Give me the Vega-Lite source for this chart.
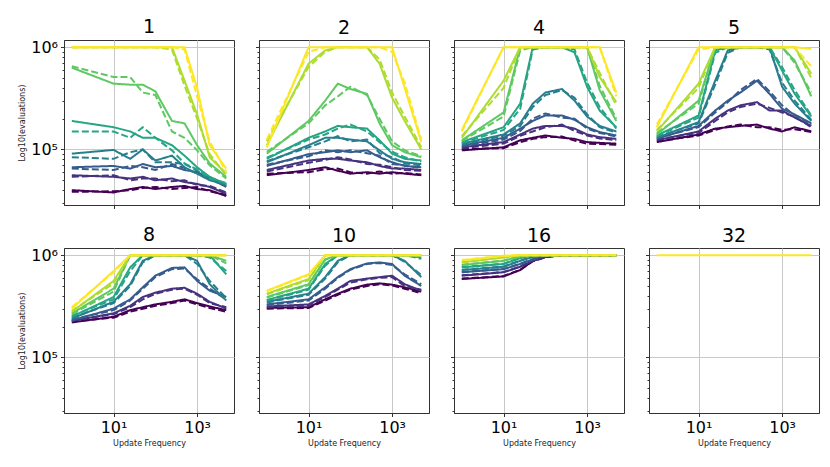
{
  "$schema": "https://vega.github.io/schema/vega-lite/v6.json",
  "padding": {"left": 18, "top": 17, "right": 5, "bottom": 5},
  "background": "white",
  "data": {
    "values": [
      {"p":1,"k":0,"d":0,"x":1,"y":40000},{"p":1,"k":0,"d":0,"x":10,"y":38000},{"p":1,"k":0,"d":0,"x":25,"y":41000},{"p":1,"k":0,"d":0,"x":50,"y":43000},{"p":1,"k":0,"d":0,"x":100,"y":41000},{"p":1,"k":0,"d":0,"x":250,"y":43000},{"p":1,"k":0,"d":0,"x":500,"y":44000},{"p":1,"k":0,"d":0,"x":1000,"y":41000},{"p":1,"k":0,"d":0,"x":2000,"y":40000},{"p":1,"k":0,"d":0,"x":5000,"y":35000},
      {"p":1,"k":0,"d":1,"x":1,"y":38500},{"p":1,"k":0,"d":1,"x":10,"y":39000},{"p":1,"k":0,"d":1,"x":25,"y":40000},{"p":1,"k":0,"d":1,"x":50,"y":42000},{"p":1,"k":0,"d":1,"x":100,"y":43000},{"p":1,"k":0,"d":1,"x":250,"y":41000},{"p":1,"k":0,"d":1,"x":500,"y":42000},{"p":1,"k":0,"d":1,"x":1000,"y":43000},{"p":1,"k":0,"d":1,"x":2000,"y":39000},{"p":1,"k":0,"d":1,"x":5000,"y":36000},
      {"p":1,"k":1,"d":0,"x":1,"y":56000},{"p":1,"k":1,"d":0,"x":10,"y":54000},{"p":1,"k":1,"d":0,"x":25,"y":52000},{"p":1,"k":1,"d":0,"x":50,"y":54000},{"p":1,"k":1,"d":0,"x":100,"y":50000},{"p":1,"k":1,"d":0,"x":250,"y":52000},{"p":1,"k":1,"d":0,"x":500,"y":48000},{"p":1,"k":1,"d":0,"x":1000,"y":46000},{"p":1,"k":1,"d":0,"x":2000,"y":43000},{"p":1,"k":1,"d":0,"x":5000,"y":37000},
      {"p":1,"k":1,"d":1,"x":1,"y":54000},{"p":1,"k":1,"d":1,"x":10,"y":56000},{"p":1,"k":1,"d":1,"x":25,"y":50000},{"p":1,"k":1,"d":1,"x":50,"y":52000},{"p":1,"k":1,"d":1,"x":100,"y":52000},{"p":1,"k":1,"d":1,"x":250,"y":49000},{"p":1,"k":1,"d":1,"x":500,"y":50000},{"p":1,"k":1,"d":1,"x":1000,"y":45000},{"p":1,"k":1,"d":1,"x":2000,"y":44000},{"p":1,"k":1,"d":1,"x":5000,"y":38000},
      {"p":1,"k":2,"d":0,"x":1,"y":67000},{"p":1,"k":2,"d":0,"x":10,"y":69000},{"p":1,"k":2,"d":0,"x":25,"y":65000},{"p":1,"k":2,"d":0,"x":50,"y":72000},{"p":1,"k":2,"d":0,"x":100,"y":67000},{"p":1,"k":2,"d":0,"x":250,"y":69000},{"p":1,"k":2,"d":0,"x":500,"y":63000},{"p":1,"k":2,"d":0,"x":1000,"y":60000},{"p":1,"k":2,"d":0,"x":2000,"y":52000},{"p":1,"k":2,"d":0,"x":5000,"y":43000},
      {"p":1,"k":2,"d":1,"x":1,"y":65000},{"p":1,"k":2,"d":1,"x":10,"y":63000},{"p":1,"k":2,"d":1,"x":25,"y":69000},{"p":1,"k":2,"d":1,"x":50,"y":67000},{"p":1,"k":2,"d":1,"x":100,"y":63000},{"p":1,"k":2,"d":1,"x":250,"y":72000},{"p":1,"k":2,"d":1,"x":500,"y":66000},{"p":1,"k":2,"d":1,"x":1000,"y":58000},{"p":1,"k":2,"d":1,"x":2000,"y":54000},{"p":1,"k":2,"d":1,"x":5000,"y":44000},
      {"p":1,"k":3,"d":0,"x":1,"y":91000},{"p":1,"k":3,"d":0,"x":10,"y":99000},{"p":1,"k":3,"d":0,"x":25,"y":81000},{"p":1,"k":3,"d":0,"x":50,"y":100000},{"p":1,"k":3,"d":0,"x":100,"y":78000},{"p":1,"k":3,"d":0,"x":250,"y":87000},{"p":1,"k":3,"d":0,"x":500,"y":67000},{"p":1,"k":3,"d":0,"x":1000,"y":58000},{"p":1,"k":3,"d":0,"x":2000,"y":50000},{"p":1,"k":3,"d":0,"x":5000,"y":45000},
      {"p":1,"k":3,"d":1,"x":1,"y":84000},{"p":1,"k":3,"d":1,"x":10,"y":81000},{"p":1,"k":3,"d":1,"x":25,"y":94000},{"p":1,"k":3,"d":1,"x":50,"y":100000},{"p":1,"k":3,"d":1,"x":100,"y":75000},{"p":1,"k":3,"d":1,"x":250,"y":75000},{"p":1,"k":3,"d":1,"x":500,"y":72000},{"p":1,"k":3,"d":1,"x":1000,"y":62000},{"p":1,"k":3,"d":1,"x":2000,"y":52000},{"p":1,"k":3,"d":1,"x":5000,"y":46000},
      {"p":1,"k":4,"d":0,"x":1,"y":190000},{"p":1,"k":4,"d":0,"x":10,"y":165000},{"p":1,"k":4,"d":0,"x":25,"y":150000},{"p":1,"k":4,"d":0,"x":50,"y":130000},{"p":1,"k":4,"d":0,"x":100,"y":130000},{"p":1,"k":4,"d":0,"x":250,"y":110000},{"p":1,"k":4,"d":0,"x":500,"y":87000},{"p":1,"k":4,"d":0,"x":1000,"y":67000},{"p":1,"k":4,"d":0,"x":2000,"y":54000},{"p":1,"k":4,"d":0,"x":5000,"y":46000},
      {"p":1,"k":4,"d":1,"x":1,"y":150000},{"p":1,"k":4,"d":1,"x":10,"y":150000},{"p":1,"k":4,"d":1,"x":25,"y":130000},{"p":1,"k":4,"d":1,"x":50,"y":165000},{"p":1,"k":4,"d":1,"x":100,"y":130000},{"p":1,"k":4,"d":1,"x":250,"y":98000},{"p":1,"k":4,"d":1,"x":500,"y":73000},{"p":1,"k":4,"d":1,"x":1000,"y":64000},{"p":1,"k":4,"d":1,"x":2000,"y":52000},{"p":1,"k":4,"d":1,"x":5000,"y":47000},
      {"p":1,"k":5,"d":0,"x":1,"y":630000},{"p":1,"k":5,"d":0,"x":10,"y":440000},{"p":1,"k":5,"d":0,"x":25,"y":430000},{"p":1,"k":5,"d":0,"x":50,"y":430000},{"p":1,"k":5,"d":0,"x":100,"y":370000},{"p":1,"k":5,"d":0,"x":250,"y":190000},{"p":1,"k":5,"d":0,"x":500,"y":180000},{"p":1,"k":5,"d":0,"x":1000,"y":110000},{"p":1,"k":5,"d":0,"x":2000,"y":73000},{"p":1,"k":5,"d":0,"x":5000,"y":54000},
      {"p":1,"k":5,"d":1,"x":1,"y":650000},{"p":1,"k":5,"d":1,"x":10,"y":510000},{"p":1,"k":5,"d":1,"x":25,"y":510000},{"p":1,"k":5,"d":1,"x":50,"y":360000},{"p":1,"k":5,"d":1,"x":100,"y":340000},{"p":1,"k":5,"d":1,"x":250,"y":150000},{"p":1,"k":5,"d":1,"x":500,"y":130000},{"p":1,"k":5,"d":1,"x":1000,"y":98000},{"p":1,"k":5,"d":1,"x":2000,"y":70000},{"p":1,"k":5,"d":1,"x":5000,"y":52000},
      {"p":1,"k":6,"d":0,"x":1,"y":1e6},{"p":1,"k":6,"d":0,"x":10,"y":1e6},{"p":1,"k":6,"d":0,"x":25,"y":1e6},{"p":1,"k":6,"d":0,"x":50,"y":1e6},{"p":1,"k":6,"d":0,"x":100,"y":1e6},{"p":1,"k":6,"d":0,"x":250,"y":1e6},{"p":1,"k":6,"d":0,"x":500,"y":470000},{"p":1,"k":6,"d":0,"x":1000,"y":220000},{"p":1,"k":6,"d":0,"x":2000,"y":84000},{"p":1,"k":6,"d":0,"x":5000,"y":58000},
      {"p":1,"k":6,"d":1,"x":1,"y":1e6},{"p":1,"k":6,"d":1,"x":10,"y":1e6},{"p":1,"k":6,"d":1,"x":25,"y":1e6},{"p":1,"k":6,"d":1,"x":50,"y":1e6},{"p":1,"k":6,"d":1,"x":100,"y":1e6},{"p":1,"k":6,"d":1,"x":250,"y":950000},{"p":1,"k":6,"d":1,"x":500,"y":420000},{"p":1,"k":6,"d":1,"x":1000,"y":200000},{"p":1,"k":6,"d":1,"x":2000,"y":90000},{"p":1,"k":6,"d":1,"x":5000,"y":56000},
      {"p":1,"k":7,"d":0,"x":1,"y":1e6},{"p":1,"k":7,"d":0,"x":10,"y":1e6},{"p":1,"k":7,"d":0,"x":25,"y":1e6},{"p":1,"k":7,"d":0,"x":50,"y":1e6},{"p":1,"k":7,"d":0,"x":100,"y":1e6},{"p":1,"k":7,"d":0,"x":250,"y":1e6},{"p":1,"k":7,"d":0,"x":500,"y":1e6},{"p":1,"k":7,"d":0,"x":1000,"y":400000},{"p":1,"k":7,"d":0,"x":2000,"y":110000},{"p":1,"k":7,"d":0,"x":5000,"y":65000},
      {"p":1,"k":7,"d":1,"x":1,"y":1e6},{"p":1,"k":7,"d":1,"x":10,"y":1e6},{"p":1,"k":7,"d":1,"x":25,"y":1e6},{"p":1,"k":7,"d":1,"x":50,"y":1e6},{"p":1,"k":7,"d":1,"x":100,"y":1e6},{"p":1,"k":7,"d":1,"x":250,"y":1e6},{"p":1,"k":7,"d":1,"x":500,"y":950000},{"p":1,"k":7,"d":1,"x":1000,"y":330000},{"p":1,"k":7,"d":1,"x":2000,"y":120000},{"p":1,"k":7,"d":1,"x":5000,"y":60000},

      {"p":2,"k":0,"d":0,"x":1,"y":56000},{"p":2,"k":0,"d":0,"x":10,"y":63000},{"p":2,"k":0,"d":0,"x":25,"y":67000},{"p":2,"k":0,"d":0,"x":50,"y":62000},{"p":2,"k":0,"d":0,"x":100,"y":58000},{"p":2,"k":0,"d":0,"x":250,"y":60000},{"p":2,"k":0,"d":0,"x":500,"y":58000},{"p":2,"k":0,"d":0,"x":1000,"y":60000},{"p":2,"k":0,"d":0,"x":2000,"y":58000},{"p":2,"k":0,"d":0,"x":5000,"y":56000},
      {"p":2,"k":0,"d":1,"x":1,"y":58000},{"p":2,"k":0,"d":1,"x":10,"y":60000},{"p":2,"k":0,"d":1,"x":25,"y":64000},{"p":2,"k":0,"d":1,"x":50,"y":65000},{"p":2,"k":0,"d":1,"x":100,"y":60000},{"p":2,"k":0,"d":1,"x":250,"y":58000},{"p":2,"k":0,"d":1,"x":500,"y":61000},{"p":2,"k":0,"d":1,"x":1000,"y":58000},{"p":2,"k":0,"d":1,"x":2000,"y":59000},{"p":2,"k":0,"d":1,"x":5000,"y":57000},
      {"p":2,"k":1,"d":0,"x":1,"y":63000},{"p":2,"k":1,"d":0,"x":10,"y":78000},{"p":2,"k":1,"d":0,"x":25,"y":81000},{"p":2,"k":1,"d":0,"x":50,"y":81000},{"p":2,"k":1,"d":0,"x":100,"y":78000},{"p":2,"k":1,"d":0,"x":250,"y":75000},{"p":2,"k":1,"d":0,"x":500,"y":69000},{"p":2,"k":1,"d":0,"x":1000,"y":65000},{"p":2,"k":1,"d":0,"x":2000,"y":65000},{"p":2,"k":1,"d":0,"x":5000,"y":63000},
      {"p":2,"k":1,"d":1,"x":1,"y":61000},{"p":2,"k":1,"d":1,"x":10,"y":74000},{"p":2,"k":1,"d":1,"x":25,"y":79000},{"p":2,"k":1,"d":1,"x":50,"y":84000},{"p":2,"k":1,"d":1,"x":100,"y":80000},{"p":2,"k":1,"d":1,"x":250,"y":72000},{"p":2,"k":1,"d":1,"x":500,"y":71000},{"p":2,"k":1,"d":1,"x":1000,"y":67000},{"p":2,"k":1,"d":1,"x":2000,"y":63000},{"p":2,"k":1,"d":1,"x":5000,"y":62000},
      {"p":2,"k":2,"d":0,"x":1,"y":69000},{"p":2,"k":2,"d":0,"x":10,"y":90000},{"p":2,"k":2,"d":0,"x":25,"y":94000},{"p":2,"k":2,"d":0,"x":50,"y":98000},{"p":2,"k":2,"d":0,"x":100,"y":94000},{"p":2,"k":2,"d":0,"x":250,"y":98000},{"p":2,"k":2,"d":0,"x":500,"y":84000},{"p":2,"k":2,"d":0,"x":1000,"y":75000},{"p":2,"k":2,"d":0,"x":2000,"y":69000},{"p":2,"k":2,"d":0,"x":5000,"y":67000},
      {"p":2,"k":2,"d":1,"x":1,"y":71000},{"p":2,"k":2,"d":1,"x":10,"y":86000},{"p":2,"k":2,"d":1,"x":25,"y":98000},{"p":2,"k":2,"d":1,"x":50,"y":94000},{"p":2,"k":2,"d":1,"x":100,"y":98000},{"p":2,"k":2,"d":1,"x":250,"y":92000},{"p":2,"k":2,"d":1,"x":500,"y":87000},{"p":2,"k":2,"d":1,"x":1000,"y":72000},{"p":2,"k":2,"d":1,"x":2000,"y":70000},{"p":2,"k":2,"d":1,"x":5000,"y":66000},
      {"p":2,"k":3,"d":0,"x":1,"y":75000},{"p":2,"k":3,"d":0,"x":10,"y":110000},{"p":2,"k":3,"d":0,"x":25,"y":130000},{"p":2,"k":3,"d":0,"x":50,"y":130000},{"p":2,"k":3,"d":0,"x":100,"y":125000},{"p":2,"k":3,"d":0,"x":250,"y":120000},{"p":2,"k":3,"d":0,"x":500,"y":98000},{"p":2,"k":3,"d":0,"x":1000,"y":81000},{"p":2,"k":3,"d":0,"x":2000,"y":75000},{"p":2,"k":3,"d":0,"x":5000,"y":72000},
      {"p":2,"k":3,"d":1,"x":1,"y":77000},{"p":2,"k":3,"d":1,"x":10,"y":105000},{"p":2,"k":3,"d":1,"x":25,"y":120000},{"p":2,"k":3,"d":1,"x":50,"y":135000},{"p":2,"k":3,"d":1,"x":100,"y":120000},{"p":2,"k":3,"d":1,"x":250,"y":125000},{"p":2,"k":3,"d":1,"x":500,"y":92000},{"p":2,"k":3,"d":1,"x":1000,"y":84000},{"p":2,"k":3,"d":1,"x":2000,"y":73000},{"p":2,"k":3,"d":1,"x":5000,"y":70000},
      {"p":2,"k":4,"d":0,"x":1,"y":81000},{"p":2,"k":4,"d":0,"x":10,"y":130000},{"p":2,"k":4,"d":0,"x":25,"y":150000},{"p":2,"k":4,"d":0,"x":50,"y":170000},{"p":2,"k":4,"d":0,"x":100,"y":165000},{"p":2,"k":4,"d":0,"x":250,"y":160000},{"p":2,"k":4,"d":0,"x":500,"y":123000},{"p":2,"k":4,"d":0,"x":1000,"y":91000},{"p":2,"k":4,"d":0,"x":2000,"y":81000},{"p":2,"k":4,"d":0,"x":5000,"y":78000},
      {"p":2,"k":4,"d":1,"x":1,"y":83000},{"p":2,"k":4,"d":1,"x":10,"y":125000},{"p":2,"k":4,"d":1,"x":25,"y":140000},{"p":2,"k":4,"d":1,"x":50,"y":160000},{"p":2,"k":4,"d":1,"x":100,"y":175000},{"p":2,"k":4,"d":1,"x":250,"y":150000},{"p":2,"k":4,"d":1,"x":500,"y":118000},{"p":2,"k":4,"d":1,"x":1000,"y":95000},{"p":2,"k":4,"d":1,"x":2000,"y":84000},{"p":2,"k":4,"d":1,"x":5000,"y":76000},
      {"p":2,"k":5,"d":0,"x":1,"y":91000},{"p":2,"k":5,"d":0,"x":10,"y":190000},{"p":2,"k":5,"d":0,"x":25,"y":300000},{"p":2,"k":5,"d":0,"x":50,"y":440000},{"p":2,"k":5,"d":0,"x":100,"y":390000},{"p":2,"k":5,"d":0,"x":250,"y":350000},{"p":2,"k":5,"d":0,"x":500,"y":180000},{"p":2,"k":5,"d":0,"x":1000,"y":110000},{"p":2,"k":5,"d":0,"x":2000,"y":94000},{"p":2,"k":5,"d":0,"x":5000,"y":84000},
      {"p":2,"k":5,"d":1,"x":1,"y":95000},{"p":2,"k":5,"d":1,"x":10,"y":180000},{"p":2,"k":5,"d":1,"x":25,"y":270000},{"p":2,"k":5,"d":1,"x":50,"y":330000},{"p":2,"k":5,"d":1,"x":100,"y":410000},{"p":2,"k":5,"d":1,"x":250,"y":340000},{"p":2,"k":5,"d":1,"x":500,"y":200000},{"p":2,"k":5,"d":1,"x":1000,"y":120000},{"p":2,"k":5,"d":1,"x":2000,"y":98000},{"p":2,"k":5,"d":1,"x":5000,"y":86000},
      {"p":2,"k":6,"d":0,"x":1,"y":110000},{"p":2,"k":6,"d":0,"x":10,"y":690000},{"p":2,"k":6,"d":0,"x":25,"y":930000},{"p":2,"k":6,"d":0,"x":50,"y":1e6},{"p":2,"k":6,"d":0,"x":100,"y":1e6},{"p":2,"k":6,"d":0,"x":250,"y":1e6},{"p":2,"k":6,"d":0,"x":500,"y":690000},{"p":2,"k":6,"d":0,"x":1000,"y":320000},{"p":2,"k":6,"d":0,"x":2000,"y":190000},{"p":2,"k":6,"d":0,"x":5000,"y":100000},
      {"p":2,"k":6,"d":1,"x":1,"y":120000},{"p":2,"k":6,"d":1,"x":10,"y":640000},{"p":2,"k":6,"d":1,"x":25,"y":900000},{"p":2,"k":6,"d":1,"x":50,"y":1e6},{"p":2,"k":6,"d":1,"x":100,"y":1e6},{"p":2,"k":6,"d":1,"x":250,"y":1e6},{"p":2,"k":6,"d":1,"x":500,"y":760000},{"p":2,"k":6,"d":1,"x":1000,"y":360000},{"p":2,"k":6,"d":1,"x":2000,"y":210000},{"p":2,"k":6,"d":1,"x":5000,"y":105000},
      {"p":2,"k":7,"d":0,"x":1,"y":105000},{"p":2,"k":7,"d":0,"x":10,"y":1e6},{"p":2,"k":7,"d":0,"x":25,"y":1e6},{"p":2,"k":7,"d":0,"x":50,"y":1e6},{"p":2,"k":7,"d":0,"x":100,"y":1e6},{"p":2,"k":7,"d":0,"x":250,"y":1e6},{"p":2,"k":7,"d":0,"x":500,"y":1e6},{"p":2,"k":7,"d":0,"x":1000,"y":1e6},{"p":2,"k":7,"d":0,"x":2000,"y":400000},{"p":2,"k":7,"d":0,"x":5000,"y":118000},
      {"p":2,"k":7,"d":1,"x":1,"y":125000},{"p":2,"k":7,"d":1,"x":10,"y":900000},{"p":2,"k":7,"d":1,"x":25,"y":1e6},{"p":2,"k":7,"d":1,"x":50,"y":1e6},{"p":2,"k":7,"d":1,"x":100,"y":1e6},{"p":2,"k":7,"d":1,"x":250,"y":1e6},{"p":2,"k":7,"d":1,"x":500,"y":1e6},{"p":2,"k":7,"d":1,"x":1000,"y":900000},{"p":2,"k":7,"d":1,"x":2000,"y":450000},{"p":2,"k":7,"d":1,"x":5000,"y":125000},

      {"p":4,"k":0,"d":0,"x":1,"y":98000},{"p":4,"k":0,"d":0,"x":10,"y":105000},{"p":4,"k":0,"d":0,"x":25,"y":123000},{"p":4,"k":0,"d":0,"x":50,"y":130000},{"p":4,"k":0,"d":0,"x":100,"y":137000},{"p":4,"k":0,"d":0,"x":250,"y":130000},{"p":4,"k":0,"d":0,"x":500,"y":127000},{"p":4,"k":0,"d":0,"x":1000,"y":118000},{"p":4,"k":0,"d":0,"x":2000,"y":116000},{"p":4,"k":0,"d":0,"x":5000,"y":114000},
      {"p":4,"k":0,"d":1,"x":1,"y":101000},{"p":4,"k":0,"d":1,"x":10,"y":103000},{"p":4,"k":0,"d":1,"x":25,"y":118000},{"p":4,"k":0,"d":1,"x":50,"y":127000},{"p":4,"k":0,"d":1,"x":100,"y":132000},{"p":4,"k":0,"d":1,"x":250,"y":134000},{"p":4,"k":0,"d":1,"x":500,"y":122000},{"p":4,"k":0,"d":1,"x":1000,"y":114000},{"p":4,"k":0,"d":1,"x":2000,"y":113000},{"p":4,"k":0,"d":1,"x":5000,"y":111000},
      {"p":4,"k":1,"d":0,"x":1,"y":105000},{"p":4,"k":1,"d":0,"x":10,"y":118000},{"p":4,"k":1,"d":0,"x":25,"y":140000},{"p":4,"k":1,"d":0,"x":50,"y":160000},{"p":4,"k":1,"d":0,"x":100,"y":170000},{"p":4,"k":1,"d":0,"x":250,"y":170000},{"p":4,"k":1,"d":0,"x":500,"y":160000},{"p":4,"k":1,"d":0,"x":1000,"y":140000},{"p":4,"k":1,"d":0,"x":2000,"y":132000},{"p":4,"k":1,"d":0,"x":5000,"y":127000},
      {"p":4,"k":1,"d":1,"x":1,"y":103000},{"p":4,"k":1,"d":1,"x":10,"y":114000},{"p":4,"k":1,"d":1,"x":25,"y":136000},{"p":4,"k":1,"d":1,"x":50,"y":150000},{"p":4,"k":1,"d":1,"x":100,"y":165000},{"p":4,"k":1,"d":1,"x":250,"y":175000},{"p":4,"k":1,"d":1,"x":500,"y":152000},{"p":4,"k":1,"d":1,"x":1000,"y":137000},{"p":4,"k":1,"d":1,"x":2000,"y":128000},{"p":4,"k":1,"d":1,"x":5000,"y":123000},
      {"p":4,"k":2,"d":0,"x":1,"y":109000},{"p":4,"k":2,"d":0,"x":10,"y":130000},{"p":4,"k":2,"d":0,"x":25,"y":160000},{"p":4,"k":2,"d":0,"x":50,"y":190000},{"p":4,"k":2,"d":0,"x":100,"y":215000},{"p":4,"k":2,"d":0,"x":250,"y":215000},{"p":4,"k":2,"d":0,"x":500,"y":195000},{"p":4,"k":2,"d":0,"x":1000,"y":165000},{"p":4,"k":2,"d":0,"x":2000,"y":148000},{"p":4,"k":2,"d":0,"x":5000,"y":137000},
      {"p":4,"k":2,"d":1,"x":1,"y":107000},{"p":4,"k":2,"d":1,"x":10,"y":125000},{"p":4,"k":2,"d":1,"x":25,"y":152000},{"p":4,"k":2,"d":1,"x":50,"y":200000},{"p":4,"k":2,"d":1,"x":100,"y":225000},{"p":4,"k":2,"d":1,"x":250,"y":205000},{"p":4,"k":2,"d":1,"x":500,"y":200000},{"p":4,"k":2,"d":1,"x":1000,"y":160000},{"p":4,"k":2,"d":1,"x":2000,"y":145000},{"p":4,"k":2,"d":1,"x":5000,"y":134000},
      {"p":4,"k":3,"d":0,"x":1,"y":114000},{"p":4,"k":3,"d":0,"x":10,"y":140000},{"p":4,"k":3,"d":0,"x":25,"y":180000},{"p":4,"k":3,"d":0,"x":50,"y":280000},{"p":4,"k":3,"d":0,"x":100,"y":360000},{"p":4,"k":3,"d":0,"x":250,"y":390000},{"p":4,"k":3,"d":0,"x":500,"y":300000},{"p":4,"k":3,"d":0,"x":1000,"y":210000},{"p":4,"k":3,"d":0,"x":2000,"y":170000},{"p":4,"k":3,"d":0,"x":5000,"y":150000},
      {"p":4,"k":3,"d":1,"x":1,"y":112000},{"p":4,"k":3,"d":1,"x":10,"y":136000},{"p":4,"k":3,"d":1,"x":25,"y":170000},{"p":4,"k":3,"d":1,"x":50,"y":260000},{"p":4,"k":3,"d":1,"x":100,"y":340000},{"p":4,"k":3,"d":1,"x":250,"y":380000},{"p":4,"k":3,"d":1,"x":500,"y":320000},{"p":4,"k":3,"d":1,"x":1000,"y":220000},{"p":4,"k":3,"d":1,"x":2000,"y":165000},{"p":4,"k":3,"d":1,"x":5000,"y":146000},
      {"p":4,"k":4,"d":0,"x":1,"y":118000},{"p":4,"k":4,"d":0,"x":10,"y":165000},{"p":4,"k":4,"d":0,"x":25,"y":280000},{"p":4,"k":4,"d":0,"x":50,"y":1e6},{"p":4,"k":4,"d":0,"x":100,"y":1e6},{"p":4,"k":4,"d":0,"x":250,"y":1e6},{"p":4,"k":4,"d":0,"x":500,"y":890000},{"p":4,"k":4,"d":0,"x":1000,"y":410000},{"p":4,"k":4,"d":0,"x":2000,"y":240000},{"p":4,"k":4,"d":0,"x":5000,"y":165000},
      {"p":4,"k":4,"d":1,"x":1,"y":116000},{"p":4,"k":4,"d":1,"x":10,"y":155000},{"p":4,"k":4,"d":1,"x":25,"y":250000},{"p":4,"k":4,"d":1,"x":50,"y":950000},{"p":4,"k":4,"d":1,"x":100,"y":1e6},{"p":4,"k":4,"d":1,"x":250,"y":1e6},{"p":4,"k":4,"d":1,"x":500,"y":950000},{"p":4,"k":4,"d":1,"x":1000,"y":450000},{"p":4,"k":4,"d":1,"x":2000,"y":260000},{"p":4,"k":4,"d":1,"x":5000,"y":160000},
      {"p":4,"k":5,"d":0,"x":1,"y":123000},{"p":4,"k":5,"d":0,"x":10,"y":230000},{"p":4,"k":5,"d":0,"x":25,"y":1e6},{"p":4,"k":5,"d":0,"x":50,"y":1e6},{"p":4,"k":5,"d":0,"x":100,"y":1e6},{"p":4,"k":5,"d":0,"x":250,"y":1e6},{"p":4,"k":5,"d":0,"x":500,"y":1e6},{"p":4,"k":5,"d":0,"x":1000,"y":1e6},{"p":4,"k":5,"d":0,"x":2000,"y":380000},{"p":4,"k":5,"d":0,"x":5000,"y":190000},
      {"p":4,"k":5,"d":1,"x":1,"y":121000},{"p":4,"k":5,"d":1,"x":10,"y":210000},{"p":4,"k":5,"d":1,"x":25,"y":930000},{"p":4,"k":5,"d":1,"x":50,"y":1e6},{"p":4,"k":5,"d":1,"x":100,"y":1e6},{"p":4,"k":5,"d":1,"x":250,"y":1e6},{"p":4,"k":5,"d":1,"x":500,"y":1e6},{"p":4,"k":5,"d":1,"x":1000,"y":1e6},{"p":4,"k":5,"d":1,"x":2000,"y":420000},{"p":4,"k":5,"d":1,"x":5000,"y":200000},
      {"p":4,"k":6,"d":0,"x":1,"y":130000},{"p":4,"k":6,"d":0,"x":10,"y":470000},{"p":4,"k":6,"d":0,"x":25,"y":1e6},{"p":4,"k":6,"d":0,"x":50,"y":1e6},{"p":4,"k":6,"d":0,"x":100,"y":1e6},{"p":4,"k":6,"d":0,"x":250,"y":1e6},{"p":4,"k":6,"d":0,"x":500,"y":1e6},{"p":4,"k":6,"d":0,"x":1000,"y":1e6},{"p":4,"k":6,"d":0,"x":2000,"y":510000},{"p":4,"k":6,"d":0,"x":5000,"y":290000},
      {"p":4,"k":6,"d":1,"x":1,"y":135000},{"p":4,"k":6,"d":1,"x":10,"y":400000},{"p":4,"k":6,"d":1,"x":25,"y":1e6},{"p":4,"k":6,"d":1,"x":50,"y":1e6},{"p":4,"k":6,"d":1,"x":100,"y":1e6},{"p":4,"k":6,"d":1,"x":250,"y":1e6},{"p":4,"k":6,"d":1,"x":500,"y":1e6},{"p":4,"k":6,"d":1,"x":1000,"y":1e6},{"p":4,"k":6,"d":1,"x":2000,"y":560000},{"p":4,"k":6,"d":1,"x":5000,"y":270000},
      {"p":4,"k":7,"d":0,"x":1,"y":155000},{"p":4,"k":7,"d":0,"x":10,"y":1e6},{"p":4,"k":7,"d":0,"x":25,"y":1e6},{"p":4,"k":7,"d":0,"x":50,"y":1e6},{"p":4,"k":7,"d":0,"x":100,"y":1e6},{"p":4,"k":7,"d":0,"x":250,"y":1e6},{"p":4,"k":7,"d":0,"x":500,"y":1e6},{"p":4,"k":7,"d":0,"x":1000,"y":1e6},{"p":4,"k":7,"d":0,"x":2000,"y":1e6},{"p":4,"k":7,"d":0,"x":5000,"y":360000},
      {"p":4,"k":7,"d":1,"x":1,"y":150000},{"p":4,"k":7,"d":1,"x":10,"y":1e6},{"p":4,"k":7,"d":1,"x":25,"y":1e6},{"p":4,"k":7,"d":1,"x":50,"y":1e6},{"p":4,"k":7,"d":1,"x":100,"y":1e6},{"p":4,"k":7,"d":1,"x":250,"y":1e6},{"p":4,"k":7,"d":1,"x":500,"y":1e6},{"p":4,"k":7,"d":1,"x":1000,"y":1e6},{"p":4,"k":7,"d":1,"x":2000,"y":1e6},{"p":4,"k":7,"d":1,"x":5000,"y":330000},

      {"p":5,"k":0,"d":0,"x":1,"y":118000},{"p":5,"k":0,"d":0,"x":10,"y":140000},{"p":5,"k":0,"d":0,"x":25,"y":160000},{"p":5,"k":0,"d":0,"x":50,"y":165000},{"p":5,"k":0,"d":0,"x":100,"y":170000},{"p":5,"k":0,"d":0,"x":250,"y":175000},{"p":5,"k":0,"d":0,"x":500,"y":160000},{"p":5,"k":0,"d":0,"x":1000,"y":150000},{"p":5,"k":0,"d":0,"x":2000,"y":165000},{"p":5,"k":0,"d":0,"x":5000,"y":150000},
      {"p":5,"k":0,"d":1,"x":1,"y":120000},{"p":5,"k":0,"d":1,"x":10,"y":137000},{"p":5,"k":0,"d":1,"x":25,"y":155000},{"p":5,"k":0,"d":1,"x":50,"y":168000},{"p":5,"k":0,"d":1,"x":100,"y":175000},{"p":5,"k":0,"d":1,"x":250,"y":165000},{"p":5,"k":0,"d":1,"x":500,"y":165000},{"p":5,"k":0,"d":1,"x":1000,"y":155000},{"p":5,"k":0,"d":1,"x":2000,"y":158000},{"p":5,"k":0,"d":1,"x":5000,"y":148000},
      {"p":5,"k":1,"d":0,"x":1,"y":123000},{"p":5,"k":1,"d":0,"x":10,"y":150000},{"p":5,"k":1,"d":0,"x":25,"y":200000},{"p":5,"k":1,"d":0,"x":50,"y":240000},{"p":5,"k":1,"d":0,"x":100,"y":270000},{"p":5,"k":1,"d":0,"x":250,"y":290000},{"p":5,"k":1,"d":0,"x":500,"y":240000},{"p":5,"k":1,"d":0,"x":1000,"y":240000},{"p":5,"k":1,"d":0,"x":2000,"y":205000},{"p":5,"k":1,"d":0,"x":5000,"y":170000},
      {"p":5,"k":1,"d":1,"x":1,"y":125000},{"p":5,"k":1,"d":1,"x":10,"y":145000},{"p":5,"k":1,"d":1,"x":25,"y":190000},{"p":5,"k":1,"d":1,"x":50,"y":230000},{"p":5,"k":1,"d":1,"x":100,"y":260000},{"p":5,"k":1,"d":1,"x":250,"y":280000},{"p":5,"k":1,"d":1,"x":500,"y":255000},{"p":5,"k":1,"d":1,"x":1000,"y":230000},{"p":5,"k":1,"d":1,"x":2000,"y":210000},{"p":5,"k":1,"d":1,"x":5000,"y":165000},
      {"p":5,"k":2,"d":0,"x":1,"y":127000},{"p":5,"k":2,"d":0,"x":10,"y":170000},{"p":5,"k":2,"d":0,"x":25,"y":240000},{"p":5,"k":2,"d":0,"x":50,"y":300000},{"p":5,"k":2,"d":0,"x":100,"y":360000},{"p":5,"k":2,"d":0,"x":250,"y":470000},{"p":5,"k":2,"d":0,"x":500,"y":350000},{"p":5,"k":2,"d":0,"x":1000,"y":250000},{"p":5,"k":2,"d":0,"x":2000,"y":220000},{"p":5,"k":2,"d":0,"x":5000,"y":180000},
      {"p":5,"k":2,"d":1,"x":1,"y":129000},{"p":5,"k":2,"d":1,"x":10,"y":165000},{"p":5,"k":2,"d":1,"x":25,"y":230000},{"p":5,"k":2,"d":1,"x":50,"y":290000},{"p":5,"k":2,"d":1,"x":100,"y":380000},{"p":5,"k":2,"d":1,"x":250,"y":490000},{"p":5,"k":2,"d":1,"x":500,"y":370000},{"p":5,"k":2,"d":1,"x":1000,"y":270000},{"p":5,"k":2,"d":1,"x":2000,"y":215000},{"p":5,"k":2,"d":1,"x":5000,"y":175000},
      {"p":5,"k":3,"d":0,"x":1,"y":130000},{"p":5,"k":3,"d":0,"x":10,"y":185000},{"p":5,"k":3,"d":0,"x":25,"y":470000},{"p":5,"k":3,"d":0,"x":50,"y":930000},{"p":5,"k":3,"d":0,"x":100,"y":1e6},{"p":5,"k":3,"d":0,"x":250,"y":1e6},{"p":5,"k":3,"d":0,"x":500,"y":1e6},{"p":5,"k":3,"d":0,"x":1000,"y":410000},{"p":5,"k":3,"d":0,"x":2000,"y":280000},{"p":5,"k":3,"d":0,"x":5000,"y":190000},
      {"p":5,"k":3,"d":1,"x":1,"y":132000},{"p":5,"k":3,"d":1,"x":10,"y":180000},{"p":5,"k":3,"d":1,"x":25,"y":430000},{"p":5,"k":3,"d":1,"x":50,"y":880000},{"p":5,"k":3,"d":1,"x":100,"y":1e6},{"p":5,"k":3,"d":1,"x":250,"y":1e6},{"p":5,"k":3,"d":1,"x":500,"y":950000},{"p":5,"k":3,"d":1,"x":1000,"y":450000},{"p":5,"k":3,"d":1,"x":2000,"y":300000},{"p":5,"k":3,"d":1,"x":5000,"y":195000},
      {"p":5,"k":4,"d":0,"x":1,"y":137000},{"p":5,"k":4,"d":0,"x":10,"y":215000},{"p":5,"k":4,"d":0,"x":25,"y":930000},{"p":5,"k":4,"d":0,"x":50,"y":1e6},{"p":5,"k":4,"d":0,"x":100,"y":1e6},{"p":5,"k":4,"d":0,"x":250,"y":1e6},{"p":5,"k":4,"d":0,"x":500,"y":1e6},{"p":5,"k":4,"d":0,"x":1000,"y":590000},{"p":5,"k":4,"d":0,"x":2000,"y":350000},{"p":5,"k":4,"d":0,"x":5000,"y":210000},
      {"p":5,"k":4,"d":1,"x":1,"y":135000},{"p":5,"k":4,"d":1,"x":10,"y":205000},{"p":5,"k":4,"d":1,"x":25,"y":880000},{"p":5,"k":4,"d":1,"x":50,"y":1e6},{"p":5,"k":4,"d":1,"x":100,"y":1e6},{"p":5,"k":4,"d":1,"x":250,"y":1e6},{"p":5,"k":4,"d":1,"x":500,"y":1e6},{"p":5,"k":4,"d":1,"x":1000,"y":640000},{"p":5,"k":4,"d":1,"x":2000,"y":380000},{"p":5,"k":4,"d":1,"x":5000,"y":215000},
      {"p":5,"k":5,"d":0,"x":1,"y":140000},{"p":5,"k":5,"d":0,"x":10,"y":300000},{"p":5,"k":5,"d":0,"x":25,"y":1e6},{"p":5,"k":5,"d":0,"x":50,"y":1e6},{"p":5,"k":5,"d":0,"x":100,"y":1e6},{"p":5,"k":5,"d":0,"x":250,"y":1e6},{"p":5,"k":5,"d":0,"x":500,"y":1e6},{"p":5,"k":5,"d":0,"x":1000,"y":1e6},{"p":5,"k":5,"d":0,"x":2000,"y":740000},{"p":5,"k":5,"d":0,"x":5000,"y":330000},
      {"p":5,"k":5,"d":1,"x":1,"y":145000},{"p":5,"k":5,"d":1,"x":10,"y":280000},{"p":5,"k":5,"d":1,"x":25,"y":1e6},{"p":5,"k":5,"d":1,"x":50,"y":1e6},{"p":5,"k":5,"d":1,"x":100,"y":1e6},{"p":5,"k":5,"d":1,"x":250,"y":1e6},{"p":5,"k":5,"d":1,"x":500,"y":1e6},{"p":5,"k":5,"d":1,"x":1000,"y":1e6},{"p":5,"k":5,"d":1,"x":2000,"y":700000},{"p":5,"k":5,"d":1,"x":5000,"y":360000},
      {"p":5,"k":6,"d":0,"x":1,"y":150000},{"p":5,"k":6,"d":0,"x":10,"y":440000},{"p":5,"k":6,"d":0,"x":25,"y":1e6},{"p":5,"k":6,"d":0,"x":50,"y":1e6},{"p":5,"k":6,"d":0,"x":100,"y":1e6},{"p":5,"k":6,"d":0,"x":250,"y":1e6},{"p":5,"k":6,"d":0,"x":500,"y":1e6},{"p":5,"k":6,"d":0,"x":1000,"y":1e6},{"p":5,"k":6,"d":0,"x":2000,"y":1e6},{"p":5,"k":6,"d":0,"x":5000,"y":550000},
      {"p":5,"k":6,"d":1,"x":1,"y":155000},{"p":5,"k":6,"d":1,"x":10,"y":400000},{"p":5,"k":6,"d":1,"x":25,"y":1e6},{"p":5,"k":6,"d":1,"x":50,"y":1e6},{"p":5,"k":6,"d":1,"x":100,"y":1e6},{"p":5,"k":6,"d":1,"x":250,"y":1e6},{"p":5,"k":6,"d":1,"x":500,"y":1e6},{"p":5,"k":6,"d":1,"x":1000,"y":1e6},{"p":5,"k":6,"d":1,"x":2000,"y":1e6},{"p":5,"k":6,"d":1,"x":5000,"y":500000},
      {"p":5,"k":7,"d":0,"x":1,"y":165000},{"p":5,"k":7,"d":0,"x":10,"y":1e6},{"p":5,"k":7,"d":0,"x":25,"y":1e6},{"p":5,"k":7,"d":0,"x":50,"y":1e6},{"p":5,"k":7,"d":0,"x":100,"y":1e6},{"p":5,"k":7,"d":0,"x":250,"y":1e6},{"p":5,"k":7,"d":0,"x":500,"y":1e6},{"p":5,"k":7,"d":0,"x":1000,"y":1e6},{"p":5,"k":7,"d":0,"x":2000,"y":1e6},{"p":5,"k":7,"d":0,"x":5000,"y":960000},
      {"p":5,"k":7,"d":1,"x":1,"y":175000},{"p":5,"k":7,"d":1,"x":10,"y":950000},{"p":5,"k":7,"d":1,"x":25,"y":1e6},{"p":5,"k":7,"d":1,"x":50,"y":1e6},{"p":5,"k":7,"d":1,"x":100,"y":1e6},{"p":5,"k":7,"d":1,"x":250,"y":1e6},{"p":5,"k":7,"d":1,"x":500,"y":1e6},{"p":5,"k":7,"d":1,"x":1000,"y":1e6},{"p":5,"k":7,"d":1,"x":2000,"y":1e6},{"p":5,"k":7,"d":1,"x":5000,"y":650000},

      {"p":8,"k":0,"d":0,"x":1,"y":220000},{"p":8,"k":0,"d":0,"x":10,"y":250000},{"p":8,"k":0,"d":0,"x":25,"y":290000},{"p":8,"k":0,"d":0,"x":50,"y":310000},{"p":8,"k":0,"d":0,"x":100,"y":330000},{"p":8,"k":0,"d":0,"x":250,"y":350000},{"p":8,"k":0,"d":0,"x":500,"y":370000},{"p":8,"k":0,"d":0,"x":1000,"y":340000},{"p":8,"k":0,"d":0,"x":2000,"y":315000},{"p":8,"k":0,"d":0,"x":5000,"y":290000},
      {"p":8,"k":0,"d":1,"x":1,"y":225000},{"p":8,"k":0,"d":1,"x":10,"y":245000},{"p":8,"k":0,"d":1,"x":25,"y":280000},{"p":8,"k":0,"d":1,"x":50,"y":300000},{"p":8,"k":0,"d":1,"x":100,"y":320000},{"p":8,"k":0,"d":1,"x":250,"y":340000},{"p":8,"k":0,"d":1,"x":500,"y":360000},{"p":8,"k":0,"d":1,"x":1000,"y":330000},{"p":8,"k":0,"d":1,"x":2000,"y":305000},{"p":8,"k":0,"d":1,"x":5000,"y":280000},
      {"p":8,"k":1,"d":0,"x":1,"y":227000},{"p":8,"k":1,"d":0,"x":10,"y":270000},{"p":8,"k":1,"d":0,"x":25,"y":320000},{"p":8,"k":1,"d":0,"x":50,"y":390000},{"p":8,"k":1,"d":0,"x":100,"y":430000},{"p":8,"k":1,"d":0,"x":250,"y":470000},{"p":8,"k":1,"d":0,"x":500,"y":480000},{"p":8,"k":1,"d":0,"x":1000,"y":420000},{"p":8,"k":1,"d":0,"x":2000,"y":350000},{"p":8,"k":1,"d":0,"x":5000,"y":300000},
      {"p":8,"k":1,"d":1,"x":1,"y":230000},{"p":8,"k":1,"d":1,"x":10,"y":265000},{"p":8,"k":1,"d":1,"x":25,"y":310000},{"p":8,"k":1,"d":1,"x":50,"y":370000},{"p":8,"k":1,"d":1,"x":100,"y":420000},{"p":8,"k":1,"d":1,"x":250,"y":460000},{"p":8,"k":1,"d":1,"x":500,"y":470000},{"p":8,"k":1,"d":1,"x":1000,"y":410000},{"p":8,"k":1,"d":1,"x":2000,"y":340000},{"p":8,"k":1,"d":1,"x":5000,"y":310000},
      {"p":8,"k":2,"d":0,"x":1,"y":230000},{"p":8,"k":2,"d":0,"x":10,"y":300000},{"p":8,"k":2,"d":0,"x":25,"y":370000},{"p":8,"k":2,"d":0,"x":50,"y":485000},{"p":8,"k":2,"d":0,"x":100,"y":630000},{"p":8,"k":2,"d":0,"x":250,"y":750000},{"p":8,"k":2,"d":0,"x":500,"y":760000},{"p":8,"k":2,"d":0,"x":1000,"y":560000},{"p":8,"k":2,"d":0,"x":2000,"y":450000},{"p":8,"k":2,"d":0,"x":5000,"y":390000},
      {"p":8,"k":2,"d":1,"x":1,"y":235000},{"p":8,"k":2,"d":1,"x":10,"y":290000},{"p":8,"k":2,"d":1,"x":25,"y":360000},{"p":8,"k":2,"d":1,"x":50,"y":470000},{"p":8,"k":2,"d":1,"x":100,"y":610000},{"p":8,"k":2,"d":1,"x":250,"y":730000},{"p":8,"k":2,"d":1,"x":500,"y":740000},{"p":8,"k":2,"d":1,"x":1000,"y":580000},{"p":8,"k":2,"d":1,"x":2000,"y":470000},{"p":8,"k":2,"d":1,"x":5000,"y":370000},
      {"p":8,"k":3,"d":0,"x":1,"y":240000},{"p":8,"k":3,"d":0,"x":10,"y":350000},{"p":8,"k":3,"d":0,"x":25,"y":520000},{"p":8,"k":3,"d":0,"x":50,"y":880000},{"p":8,"k":3,"d":0,"x":100,"y":1e6},{"p":8,"k":3,"d":0,"x":250,"y":1e6},{"p":8,"k":3,"d":0,"x":500,"y":1e6},{"p":8,"k":3,"d":0,"x":1000,"y":880000},{"p":8,"k":3,"d":0,"x":2000,"y":520000},{"p":8,"k":3,"d":0,"x":5000,"y":360000},
      {"p":8,"k":3,"d":1,"x":1,"y":245000},{"p":8,"k":3,"d":1,"x":10,"y":340000},{"p":8,"k":3,"d":1,"x":25,"y":500000},{"p":8,"k":3,"d":1,"x":50,"y":850000},{"p":8,"k":3,"d":1,"x":100,"y":1e6},{"p":8,"k":3,"d":1,"x":250,"y":1e6},{"p":8,"k":3,"d":1,"x":500,"y":1e6},{"p":8,"k":3,"d":1,"x":1000,"y":820000},{"p":8,"k":3,"d":1,"x":2000,"y":560000},{"p":8,"k":3,"d":1,"x":5000,"y":380000},
      {"p":8,"k":4,"d":0,"x":1,"y":250000},{"p":8,"k":4,"d":0,"x":10,"y":390000},{"p":8,"k":4,"d":0,"x":25,"y":760000},{"p":8,"k":4,"d":0,"x":50,"y":1e6},{"p":8,"k":4,"d":0,"x":100,"y":1e6},{"p":8,"k":4,"d":0,"x":250,"y":1e6},{"p":8,"k":4,"d":0,"x":500,"y":1e6},{"p":8,"k":4,"d":0,"x":1000,"y":1e6},{"p":8,"k":4,"d":0,"x":2000,"y":1e6},{"p":8,"k":4,"d":0,"x":5000,"y":650000},
      {"p":8,"k":4,"d":1,"x":1,"y":255000},{"p":8,"k":4,"d":1,"x":10,"y":370000},{"p":8,"k":4,"d":1,"x":25,"y":700000},{"p":8,"k":4,"d":1,"x":50,"y":1e6},{"p":8,"k":4,"d":1,"x":100,"y":1e6},{"p":8,"k":4,"d":1,"x":250,"y":1e6},{"p":8,"k":4,"d":1,"x":500,"y":1e6},{"p":8,"k":4,"d":1,"x":1000,"y":1e6},{"p":8,"k":4,"d":1,"x":2000,"y":950000},{"p":8,"k":4,"d":1,"x":5000,"y":700000},
      {"p":8,"k":5,"d":0,"x":1,"y":270000},{"p":8,"k":5,"d":0,"x":10,"y":470000},{"p":8,"k":5,"d":0,"x":25,"y":1e6},{"p":8,"k":5,"d":0,"x":50,"y":1e6},{"p":8,"k":5,"d":0,"x":100,"y":1e6},{"p":8,"k":5,"d":0,"x":250,"y":1e6},{"p":8,"k":5,"d":0,"x":500,"y":1e6},{"p":8,"k":5,"d":0,"x":1000,"y":1e6},{"p":8,"k":5,"d":0,"x":2000,"y":1e6},{"p":8,"k":5,"d":0,"x":5000,"y":880000},
      {"p":8,"k":5,"d":1,"x":1,"y":265000},{"p":8,"k":5,"d":1,"x":10,"y":440000},{"p":8,"k":5,"d":1,"x":25,"y":1e6},{"p":8,"k":5,"d":1,"x":50,"y":1e6},{"p":8,"k":5,"d":1,"x":100,"y":1e6},{"p":8,"k":5,"d":1,"x":250,"y":1e6},{"p":8,"k":5,"d":1,"x":500,"y":1e6},{"p":8,"k":5,"d":1,"x":1000,"y":1e6},{"p":8,"k":5,"d":1,"x":2000,"y":1e6},{"p":8,"k":5,"d":1,"x":5000,"y":830000},
      {"p":8,"k":6,"d":0,"x":1,"y":280000},{"p":8,"k":6,"d":0,"x":10,"y":560000},{"p":8,"k":6,"d":0,"x":25,"y":1e6},{"p":8,"k":6,"d":0,"x":50,"y":1e6},{"p":8,"k":6,"d":0,"x":100,"y":1e6},{"p":8,"k":6,"d":0,"x":250,"y":1e6},{"p":8,"k":6,"d":0,"x":500,"y":1e6},{"p":8,"k":6,"d":0,"x":1000,"y":1e6},{"p":8,"k":6,"d":0,"x":2000,"y":1e6},{"p":8,"k":6,"d":0,"x":5000,"y":1e6},
      {"p":8,"k":6,"d":1,"x":1,"y":285000},{"p":8,"k":6,"d":1,"x":10,"y":530000},{"p":8,"k":6,"d":1,"x":25,"y":1e6},{"p":8,"k":6,"d":1,"x":50,"y":1e6},{"p":8,"k":6,"d":1,"x":100,"y":1e6},{"p":8,"k":6,"d":1,"x":250,"y":1e6},{"p":8,"k":6,"d":1,"x":500,"y":1e6},{"p":8,"k":6,"d":1,"x":1000,"y":1e6},{"p":8,"k":6,"d":1,"x":2000,"y":1e6},{"p":8,"k":6,"d":1,"x":5000,"y":1e6},
      {"p":8,"k":7,"d":0,"x":1,"y":300000},{"p":8,"k":7,"d":0,"x":10,"y":700000},{"p":8,"k":7,"d":0,"x":25,"y":1e6},{"p":8,"k":7,"d":0,"x":50,"y":1e6},{"p":8,"k":7,"d":0,"x":100,"y":1e6},{"p":8,"k":7,"d":0,"x":250,"y":1e6},{"p":8,"k":7,"d":0,"x":500,"y":1e6},{"p":8,"k":7,"d":0,"x":1000,"y":1e6},{"p":8,"k":7,"d":0,"x":2000,"y":1e6},{"p":8,"k":7,"d":0,"x":5000,"y":1e6},
      {"p":8,"k":7,"d":1,"x":1,"y":310000},{"p":8,"k":7,"d":1,"x":10,"y":680000},{"p":8,"k":7,"d":1,"x":25,"y":1e6},{"p":8,"k":7,"d":1,"x":50,"y":1e6},{"p":8,"k":7,"d":1,"x":100,"y":1e6},{"p":8,"k":7,"d":1,"x":250,"y":1e6},{"p":8,"k":7,"d":1,"x":500,"y":1e6},{"p":8,"k":7,"d":1,"x":1000,"y":1e6},{"p":8,"k":7,"d":1,"x":2000,"y":1e6},{"p":8,"k":7,"d":1,"x":5000,"y":1e6},

      {"p":10,"k":0,"d":0,"x":1,"y":305000},{"p":10,"k":0,"d":0,"x":10,"y":310000},{"p":10,"k":0,"d":0,"x":25,"y":370000},{"p":10,"k":0,"d":0,"x":50,"y":420000},{"p":10,"k":0,"d":0,"x":100,"y":470000},{"p":10,"k":0,"d":0,"x":250,"y":515000},{"p":10,"k":0,"d":0,"x":500,"y":530000},{"p":10,"k":0,"d":0,"x":1000,"y":515000},{"p":10,"k":0,"d":0,"x":2000,"y":485000},{"p":10,"k":0,"d":0,"x":5000,"y":440000},
      {"p":10,"k":0,"d":1,"x":1,"y":300000},{"p":10,"k":0,"d":1,"x":10,"y":305000},{"p":10,"k":0,"d":1,"x":25,"y":360000},{"p":10,"k":0,"d":1,"x":50,"y":410000},{"p":10,"k":0,"d":1,"x":100,"y":460000},{"p":10,"k":0,"d":1,"x":250,"y":500000},{"p":10,"k":0,"d":1,"x":500,"y":520000},{"p":10,"k":0,"d":1,"x":1000,"y":505000},{"p":10,"k":0,"d":1,"x":2000,"y":470000},{"p":10,"k":0,"d":1,"x":5000,"y":425000},
      {"p":10,"k":1,"d":0,"x":1,"y":315000},{"p":10,"k":1,"d":0,"x":10,"y":330000},{"p":10,"k":1,"d":0,"x":25,"y":400000},{"p":10,"k":1,"d":0,"x":50,"y":470000},{"p":10,"k":1,"d":0,"x":100,"y":560000},{"p":10,"k":1,"d":0,"x":250,"y":590000},{"p":10,"k":1,"d":0,"x":500,"y":610000},{"p":10,"k":1,"d":0,"x":1000,"y":630000},{"p":10,"k":1,"d":0,"x":2000,"y":520000},{"p":10,"k":1,"d":0,"x":5000,"y":450000},
      {"p":10,"k":1,"d":1,"x":1,"y":310000},{"p":10,"k":1,"d":1,"x":10,"y":320000},{"p":10,"k":1,"d":1,"x":25,"y":390000},{"p":10,"k":1,"d":1,"x":50,"y":460000},{"p":10,"k":1,"d":1,"x":100,"y":540000},{"p":10,"k":1,"d":1,"x":250,"y":580000},{"p":10,"k":1,"d":1,"x":500,"y":600000},{"p":10,"k":1,"d":1,"x":1000,"y":610000},{"p":10,"k":1,"d":1,"x":2000,"y":500000},{"p":10,"k":1,"d":1,"x":5000,"y":460000},
      {"p":10,"k":2,"d":0,"x":1,"y":330000},{"p":10,"k":2,"d":0,"x":10,"y":370000},{"p":10,"k":2,"d":0,"x":25,"y":485000},{"p":10,"k":2,"d":0,"x":50,"y":610000},{"p":10,"k":2,"d":0,"x":100,"y":730000},{"p":10,"k":2,"d":0,"x":250,"y":830000},{"p":10,"k":2,"d":0,"x":500,"y":850000},{"p":10,"k":2,"d":0,"x":1000,"y":820000},{"p":10,"k":2,"d":0,"x":2000,"y":630000},{"p":10,"k":2,"d":0,"x":5000,"y":500000},
      {"p":10,"k":2,"d":1,"x":1,"y":325000},{"p":10,"k":2,"d":1,"x":10,"y":360000},{"p":10,"k":2,"d":1,"x":25,"y":470000},{"p":10,"k":2,"d":1,"x":50,"y":600000},{"p":10,"k":2,"d":1,"x":100,"y":720000},{"p":10,"k":2,"d":1,"x":250,"y":820000},{"p":10,"k":2,"d":1,"x":500,"y":840000},{"p":10,"k":2,"d":1,"x":1000,"y":800000},{"p":10,"k":2,"d":1,"x":2000,"y":650000},{"p":10,"k":2,"d":1,"x":5000,"y":520000},
      {"p":10,"k":3,"d":0,"x":1,"y":350000},{"p":10,"k":3,"d":0,"x":10,"y":420000},{"p":10,"k":3,"d":0,"x":25,"y":610000},{"p":10,"k":3,"d":0,"x":50,"y":880000},{"p":10,"k":3,"d":0,"x":100,"y":1e6},{"p":10,"k":3,"d":0,"x":250,"y":1e6},{"p":10,"k":3,"d":0,"x":500,"y":1e6},{"p":10,"k":3,"d":0,"x":1000,"y":1e6},{"p":10,"k":3,"d":0,"x":2000,"y":880000},{"p":10,"k":3,"d":0,"x":5000,"y":610000},
      {"p":10,"k":3,"d":1,"x":1,"y":345000},{"p":10,"k":3,"d":1,"x":10,"y":410000},{"p":10,"k":3,"d":1,"x":25,"y":590000},{"p":10,"k":3,"d":1,"x":50,"y":850000},{"p":10,"k":3,"d":1,"x":100,"y":1e6},{"p":10,"k":3,"d":1,"x":250,"y":1e6},{"p":10,"k":3,"d":1,"x":500,"y":1e6},{"p":10,"k":3,"d":1,"x":1000,"y":1e6},{"p":10,"k":3,"d":1,"x":2000,"y":860000},{"p":10,"k":3,"d":1,"x":5000,"y":640000},
      {"p":10,"k":4,"d":0,"x":1,"y":365000},{"p":10,"k":4,"d":0,"x":10,"y":470000},{"p":10,"k":4,"d":0,"x":25,"y":820000},{"p":10,"k":4,"d":0,"x":50,"y":1e6},{"p":10,"k":4,"d":0,"x":100,"y":1e6},{"p":10,"k":4,"d":0,"x":250,"y":1e6},{"p":10,"k":4,"d":0,"x":500,"y":1e6},{"p":10,"k":4,"d":0,"x":1000,"y":1e6},{"p":10,"k":4,"d":0,"x":2000,"y":1e6},{"p":10,"k":4,"d":0,"x":5000,"y":950000},
      {"p":10,"k":4,"d":1,"x":1,"y":360000},{"p":10,"k":4,"d":1,"x":10,"y":460000},{"p":10,"k":4,"d":1,"x":25,"y":790000},{"p":10,"k":4,"d":1,"x":50,"y":1e6},{"p":10,"k":4,"d":1,"x":100,"y":1e6},{"p":10,"k":4,"d":1,"x":250,"y":1e6},{"p":10,"k":4,"d":1,"x":500,"y":1e6},{"p":10,"k":4,"d":1,"x":1000,"y":1e6},{"p":10,"k":4,"d":1,"x":2000,"y":1e6},{"p":10,"k":4,"d":1,"x":5000,"y":920000},
      {"p":10,"k":5,"d":0,"x":1,"y":390000},{"p":10,"k":5,"d":0,"x":10,"y":520000},{"p":10,"k":5,"d":0,"x":25,"y":910000},{"p":10,"k":5,"d":0,"x":50,"y":1e6},{"p":10,"k":5,"d":0,"x":100,"y":1e6},{"p":10,"k":5,"d":0,"x":250,"y":1e6},{"p":10,"k":5,"d":0,"x":500,"y":1e6},{"p":10,"k":5,"d":0,"x":1000,"y":1e6},{"p":10,"k":5,"d":0,"x":2000,"y":1e6},{"p":10,"k":5,"d":0,"x":5000,"y":1e6},
      {"p":10,"k":5,"d":1,"x":1,"y":385000},{"p":10,"k":5,"d":1,"x":10,"y":510000},{"p":10,"k":5,"d":1,"x":25,"y":900000},{"p":10,"k":5,"d":1,"x":50,"y":1e6},{"p":10,"k":5,"d":1,"x":100,"y":1e6},{"p":10,"k":5,"d":1,"x":250,"y":1e6},{"p":10,"k":5,"d":1,"x":500,"y":1e6},{"p":10,"k":5,"d":1,"x":1000,"y":1e6},{"p":10,"k":5,"d":1,"x":2000,"y":1e6},{"p":10,"k":5,"d":1,"x":5000,"y":1e6},
      {"p":10,"k":6,"d":0,"x":1,"y":420000},{"p":10,"k":6,"d":0,"x":10,"y":585000},{"p":10,"k":6,"d":0,"x":25,"y":1e6},{"p":10,"k":6,"d":0,"x":50,"y":1e6},{"p":10,"k":6,"d":0,"x":100,"y":1e6},{"p":10,"k":6,"d":0,"x":250,"y":1e6},{"p":10,"k":6,"d":0,"x":500,"y":1e6},{"p":10,"k":6,"d":0,"x":1000,"y":1e6},{"p":10,"k":6,"d":0,"x":2000,"y":1e6},{"p":10,"k":6,"d":0,"x":5000,"y":1e6},
      {"p":10,"k":6,"d":1,"x":1,"y":415000},{"p":10,"k":6,"d":1,"x":10,"y":570000},{"p":10,"k":6,"d":1,"x":25,"y":1e6},{"p":10,"k":6,"d":1,"x":50,"y":1e6},{"p":10,"k":6,"d":1,"x":100,"y":1e6},{"p":10,"k":6,"d":1,"x":250,"y":1e6},{"p":10,"k":6,"d":1,"x":500,"y":1e6},{"p":10,"k":6,"d":1,"x":1000,"y":1e6},{"p":10,"k":6,"d":1,"x":2000,"y":1e6},{"p":10,"k":6,"d":1,"x":5000,"y":1e6},
      {"p":10,"k":7,"d":0,"x":1,"y":450000},{"p":10,"k":7,"d":0,"x":10,"y":650000},{"p":10,"k":7,"d":0,"x":25,"y":1e6},{"p":10,"k":7,"d":0,"x":50,"y":1e6},{"p":10,"k":7,"d":0,"x":100,"y":1e6},{"p":10,"k":7,"d":0,"x":250,"y":1e6},{"p":10,"k":7,"d":0,"x":500,"y":1e6},{"p":10,"k":7,"d":0,"x":1000,"y":1e6},{"p":10,"k":7,"d":0,"x":2000,"y":1e6},{"p":10,"k":7,"d":0,"x":5000,"y":1e6},
      {"p":10,"k":7,"d":1,"x":1,"y":445000},{"p":10,"k":7,"d":1,"x":10,"y":640000},{"p":10,"k":7,"d":1,"x":25,"y":1e6},{"p":10,"k":7,"d":1,"x":50,"y":1e6},{"p":10,"k":7,"d":1,"x":100,"y":1e6},{"p":10,"k":7,"d":1,"x":250,"y":1e6},{"p":10,"k":7,"d":1,"x":500,"y":1e6},{"p":10,"k":7,"d":1,"x":1000,"y":1e6},{"p":10,"k":7,"d":1,"x":2000,"y":1e6},{"p":10,"k":7,"d":1,"x":5000,"y":1e6},

      {"p":16,"k":0,"d":0,"x":1,"y":585000},{"p":16,"k":0,"d":0,"x":10,"y":620000},{"p":16,"k":0,"d":0,"x":25,"y":715000},{"p":16,"k":0,"d":0,"x":50,"y":880000},{"p":16,"k":0,"d":0,"x":100,"y":960000},{"p":16,"k":0,"d":0,"x":250,"y":1e6},{"p":16,"k":0,"d":0,"x":500,"y":1e6},{"p":16,"k":0,"d":0,"x":1000,"y":1e6},{"p":16,"k":0,"d":0,"x":2000,"y":1e6},{"p":16,"k":0,"d":0,"x":5000,"y":1e6},
      {"p":16,"k":0,"d":1,"x":1,"y":590000},{"p":16,"k":0,"d":1,"x":10,"y":625000},{"p":16,"k":0,"d":1,"x":25,"y":720000},{"p":16,"k":0,"d":1,"x":50,"y":870000},{"p":16,"k":0,"d":1,"x":100,"y":955000},{"p":16,"k":0,"d":1,"x":250,"y":1e6},{"p":16,"k":0,"d":1,"x":500,"y":1e6},{"p":16,"k":0,"d":1,"x":1000,"y":1e6},{"p":16,"k":0,"d":1,"x":2000,"y":1e6},{"p":16,"k":0,"d":1,"x":5000,"y":1e6},
      {"p":16,"k":1,"d":0,"x":1,"y":630000},{"p":16,"k":1,"d":0,"x":10,"y":680000},{"p":16,"k":1,"d":0,"x":25,"y":770000},{"p":16,"k":1,"d":0,"x":50,"y":880000},{"p":16,"k":1,"d":0,"x":100,"y":960000},{"p":16,"k":1,"d":0,"x":250,"y":1e6},{"p":16,"k":1,"d":0,"x":500,"y":1e6},{"p":16,"k":1,"d":0,"x":1000,"y":1e6},{"p":16,"k":1,"d":0,"x":2000,"y":1e6},{"p":16,"k":1,"d":0,"x":5000,"y":1e6},
      {"p":16,"k":1,"d":1,"x":1,"y":635000},{"p":16,"k":1,"d":1,"x":10,"y":685000},{"p":16,"k":1,"d":1,"x":25,"y":775000},{"p":16,"k":1,"d":1,"x":50,"y":890000},{"p":16,"k":1,"d":1,"x":100,"y":965000},{"p":16,"k":1,"d":1,"x":250,"y":1e6},{"p":16,"k":1,"d":1,"x":500,"y":1e6},{"p":16,"k":1,"d":1,"x":1000,"y":1e6},{"p":16,"k":1,"d":1,"x":2000,"y":1e6},{"p":16,"k":1,"d":1,"x":5000,"y":1e6},
      {"p":16,"k":2,"d":0,"x":1,"y":680000},{"p":16,"k":2,"d":0,"x":10,"y":730000},{"p":16,"k":2,"d":0,"x":25,"y":820000},{"p":16,"k":2,"d":0,"x":50,"y":910000},{"p":16,"k":2,"d":0,"x":100,"y":985000},{"p":16,"k":2,"d":0,"x":250,"y":1e6},{"p":16,"k":2,"d":0,"x":500,"y":1e6},{"p":16,"k":2,"d":0,"x":1000,"y":1e6},{"p":16,"k":2,"d":0,"x":2000,"y":1e6},{"p":16,"k":2,"d":0,"x":5000,"y":1e6},
      {"p":16,"k":2,"d":1,"x":1,"y":685000},{"p":16,"k":2,"d":1,"x":10,"y":735000},{"p":16,"k":2,"d":1,"x":25,"y":825000},{"p":16,"k":2,"d":1,"x":50,"y":915000},{"p":16,"k":2,"d":1,"x":100,"y":985000},{"p":16,"k":2,"d":1,"x":250,"y":1e6},{"p":16,"k":2,"d":1,"x":500,"y":1e6},{"p":16,"k":2,"d":1,"x":1000,"y":1e6},{"p":16,"k":2,"d":1,"x":2000,"y":1e6},{"p":16,"k":2,"d":1,"x":5000,"y":1e6},
      {"p":16,"k":3,"d":0,"x":1,"y":715000},{"p":16,"k":3,"d":0,"x":10,"y":770000},{"p":16,"k":3,"d":0,"x":25,"y":880000},{"p":16,"k":3,"d":0,"x":50,"y":960000},{"p":16,"k":3,"d":0,"x":100,"y":1e6},{"p":16,"k":3,"d":0,"x":250,"y":1e6},{"p":16,"k":3,"d":0,"x":500,"y":1e6},{"p":16,"k":3,"d":0,"x":1000,"y":1e6},{"p":16,"k":3,"d":0,"x":2000,"y":1e6},{"p":16,"k":3,"d":0,"x":5000,"y":1e6},
      {"p":16,"k":3,"d":1,"x":1,"y":720000},{"p":16,"k":3,"d":1,"x":10,"y":775000},{"p":16,"k":3,"d":1,"x":25,"y":885000},{"p":16,"k":3,"d":1,"x":50,"y":965000},{"p":16,"k":3,"d":1,"x":100,"y":1e6},{"p":16,"k":3,"d":1,"x":250,"y":1e6},{"p":16,"k":3,"d":1,"x":500,"y":1e6},{"p":16,"k":3,"d":1,"x":1000,"y":1e6},{"p":16,"k":3,"d":1,"x":2000,"y":1e6},{"p":16,"k":3,"d":1,"x":5000,"y":1e6},
      {"p":16,"k":4,"d":0,"x":1,"y":760000},{"p":16,"k":4,"d":0,"x":10,"y":820000},{"p":16,"k":4,"d":0,"x":25,"y":935000},{"p":16,"k":4,"d":0,"x":50,"y":1e6},{"p":16,"k":4,"d":0,"x":100,"y":1e6},{"p":16,"k":4,"d":0,"x":250,"y":1e6},{"p":16,"k":4,"d":0,"x":500,"y":1e6},{"p":16,"k":4,"d":0,"x":1000,"y":1e6},{"p":16,"k":4,"d":0,"x":2000,"y":1e6},{"p":16,"k":4,"d":0,"x":5000,"y":1e6},
      {"p":16,"k":4,"d":1,"x":1,"y":765000},{"p":16,"k":4,"d":1,"x":10,"y":825000},{"p":16,"k":4,"d":1,"x":25,"y":940000},{"p":16,"k":4,"d":1,"x":50,"y":1e6},{"p":16,"k":4,"d":1,"x":100,"y":1e6},{"p":16,"k":4,"d":1,"x":250,"y":1e6},{"p":16,"k":4,"d":1,"x":500,"y":1e6},{"p":16,"k":4,"d":1,"x":1000,"y":1e6},{"p":16,"k":4,"d":1,"x":2000,"y":1e6},{"p":16,"k":4,"d":1,"x":5000,"y":1e6},
      {"p":16,"k":5,"d":0,"x":1,"y":800000},{"p":16,"k":5,"d":0,"x":10,"y":880000},{"p":16,"k":5,"d":0,"x":25,"y":970000},{"p":16,"k":5,"d":0,"x":50,"y":1e6},{"p":16,"k":5,"d":0,"x":100,"y":1e6},{"p":16,"k":5,"d":0,"x":250,"y":1e6},{"p":16,"k":5,"d":0,"x":500,"y":1e6},{"p":16,"k":5,"d":0,"x":1000,"y":1e6},{"p":16,"k":5,"d":0,"x":2000,"y":1e6},{"p":16,"k":5,"d":0,"x":5000,"y":1e6},
      {"p":16,"k":5,"d":1,"x":1,"y":805000},{"p":16,"k":5,"d":1,"x":10,"y":885000},{"p":16,"k":5,"d":1,"x":25,"y":975000},{"p":16,"k":5,"d":1,"x":50,"y":1e6},{"p":16,"k":5,"d":1,"x":100,"y":1e6},{"p":16,"k":5,"d":1,"x":250,"y":1e6},{"p":16,"k":5,"d":1,"x":500,"y":1e6},{"p":16,"k":5,"d":1,"x":1000,"y":1e6},{"p":16,"k":5,"d":1,"x":2000,"y":1e6},{"p":16,"k":5,"d":1,"x":5000,"y":1e6},
      {"p":16,"k":6,"d":0,"x":1,"y":850000},{"p":16,"k":6,"d":0,"x":10,"y":950000},{"p":16,"k":6,"d":0,"x":25,"y":1e6},{"p":16,"k":6,"d":0,"x":50,"y":1e6},{"p":16,"k":6,"d":0,"x":100,"y":1e6},{"p":16,"k":6,"d":0,"x":250,"y":1e6},{"p":16,"k":6,"d":0,"x":500,"y":1e6},{"p":16,"k":6,"d":0,"x":1000,"y":1e6},{"p":16,"k":6,"d":0,"x":2000,"y":1e6},{"p":16,"k":6,"d":0,"x":5000,"y":1e6},
      {"p":16,"k":6,"d":1,"x":1,"y":855000},{"p":16,"k":6,"d":1,"x":10,"y":955000},{"p":16,"k":6,"d":1,"x":25,"y":1e6},{"p":16,"k":6,"d":1,"x":50,"y":1e6},{"p":16,"k":6,"d":1,"x":100,"y":1e6},{"p":16,"k":6,"d":1,"x":250,"y":1e6},{"p":16,"k":6,"d":1,"x":500,"y":1e6},{"p":16,"k":6,"d":1,"x":1000,"y":1e6},{"p":16,"k":6,"d":1,"x":2000,"y":1e6},{"p":16,"k":6,"d":1,"x":5000,"y":1e6},
      {"p":16,"k":7,"d":0,"x":1,"y":890000},{"p":16,"k":7,"d":0,"x":10,"y":985000},{"p":16,"k":7,"d":0,"x":25,"y":1e6},{"p":16,"k":7,"d":0,"x":50,"y":1e6},{"p":16,"k":7,"d":0,"x":100,"y":1e6},{"p":16,"k":7,"d":0,"x":250,"y":1e6},{"p":16,"k":7,"d":0,"x":500,"y":1e6},{"p":16,"k":7,"d":0,"x":1000,"y":1e6},{"p":16,"k":7,"d":0,"x":2000,"y":1e6},{"p":16,"k":7,"d":0,"x":5000,"y":1e6},
      {"p":16,"k":7,"d":1,"x":1,"y":895000},{"p":16,"k":7,"d":1,"x":10,"y":985000},{"p":16,"k":7,"d":1,"x":25,"y":1e6},{"p":16,"k":7,"d":1,"x":50,"y":1e6},{"p":16,"k":7,"d":1,"x":100,"y":1e6},{"p":16,"k":7,"d":1,"x":250,"y":1e6},{"p":16,"k":7,"d":1,"x":500,"y":1e6},{"p":16,"k":7,"d":1,"x":1000,"y":1e6},{"p":16,"k":7,"d":1,"x":2000,"y":1e6},{"p":16,"k":7,"d":1,"x":5000,"y":1e6},

      {"p":32,"k":7,"d":0,"x":1,"y":1e6},{"p":32,"k":7,"d":0,"x":10,"y":1e6},{"p":32,"k":7,"d":0,"x":25,"y":1e6},{"p":32,"k":7,"d":0,"x":50,"y":1e6},{"p":32,"k":7,"d":0,"x":100,"y":1e6},{"p":32,"k":7,"d":0,"x":250,"y":1e6},{"p":32,"k":7,"d":0,"x":500,"y":1e6},{"p":32,"k":7,"d":0,"x":1000,"y":1e6},{"p":32,"k":7,"d":0,"x":2000,"y":1e6},{"p":32,"k":7,"d":0,"x":5000,"y":1e6}
    ]
  },
  "vconcat": [
    {
      "hconcat": [
        {
          "title": "1",
          "transform": [{"filter": "datum.p == 1"}],
          "mark": {"type": "line", "strokeWidth": 2},
          "encoding": {
            "x": {"field": "x", "type": "quantitative", "scale": {"type": "log", "domain": [0.65, 7650]}, "axis": {"values": [10, 1000], "labels": false, "title": null}},
            "y": {"field": "y", "type": "quantitative", "scale": {"type": "log", "domain": [28650, 1175000]}, "axis": {"values": [30000,40000,50000,60000,70000,80000,90000,100000,200000,300000,400000,500000,600000,700000,800000,900000,1000000], "labelExpr": "datum.value == 1000000 ? '10⁶' : datum.value == 100000 ? '10⁵' : ''", "title": "Log10(evaluations)", "tickSize": {"condition": {"test": "datum.value == 100000 || datum.value == 1000000", "value": 3.5}, "value": 2}, "gridOpacity": {"condition": {"test": "datum.value == 100000 || datum.value == 1000000", "value": 1}, "value": 0}}},
            "color": {"field": "k", "type": "ordinal", "scale": {"domain": [0,1,2,3,4,5,6,7], "range": ["#440154","#46327e","#365c8d","#277f8e","#25a584","#5ec962","#addc30","#fde725"]}, "legend": null},
            "strokeDash": {"field": "d", "type": "ordinal", "scale": {"domain": [0, 1], "range": [[1, 0], [7, 3]]}, "legend": null}
          }
        },
        {
          "title": "2",
          "transform": [{"filter": "datum.p == 2"}],
          "mark": {"type": "line", "strokeWidth": 2},
          "encoding": {
            "x": {"field": "x", "type": "quantitative", "scale": {"type": "log", "domain": [0.65, 7650]}, "axis": {"values": [10, 1000], "labels": false, "title": null}},
            "y": {"field": "y", "type": "quantitative", "scale": {"type": "log", "domain": [28650, 1175000]}, "axis": {"values": [30000,40000,50000,60000,70000,80000,90000,100000,200000,300000,400000,500000,600000,700000,800000,900000,1000000], "labels": false, "title": null, "tickSize": {"condition": {"test": "datum.value == 100000 || datum.value == 1000000", "value": 3.5}, "value": 2}, "gridOpacity": {"condition": {"test": "datum.value == 100000 || datum.value == 1000000", "value": 1}, "value": 0}}},
            "color": {"field": "k", "type": "ordinal", "scale": {"domain": [0,1,2,3,4,5,6,7], "range": ["#440154","#46327e","#365c8d","#277f8e","#25a584","#5ec962","#addc30","#fde725"]}, "legend": null},
            "strokeDash": {"field": "d", "type": "ordinal", "scale": {"domain": [0, 1], "range": [[1, 0], [7, 3]]}, "legend": null}
          }
        },
        {
          "title": "4",
          "transform": [{"filter": "datum.p == 4"}],
          "mark": {"type": "line", "strokeWidth": 2},
          "encoding": {
            "x": {"field": "x", "type": "quantitative", "scale": {"type": "log", "domain": [0.65, 7650]}, "axis": {"values": [10, 1000], "labels": false, "title": null}},
            "y": {"field": "y", "type": "quantitative", "scale": {"type": "log", "domain": [28650, 1175000]}, "axis": {"values": [30000,40000,50000,60000,70000,80000,90000,100000,200000,300000,400000,500000,600000,700000,800000,900000,1000000], "labels": false, "title": null, "tickSize": {"condition": {"test": "datum.value == 100000 || datum.value == 1000000", "value": 3.5}, "value": 2}, "gridOpacity": {"condition": {"test": "datum.value == 100000 || datum.value == 1000000", "value": 1}, "value": 0}}},
            "color": {"field": "k", "type": "ordinal", "scale": {"domain": [0,1,2,3,4,5,6,7], "range": ["#440154","#46327e","#365c8d","#277f8e","#25a584","#5ec962","#addc30","#fde725"]}, "legend": null},
            "strokeDash": {"field": "d", "type": "ordinal", "scale": {"domain": [0, 1], "range": [[1, 0], [7, 3]]}, "legend": null}
          }
        },
        {
          "title": "5",
          "transform": [{"filter": "datum.p == 5"}],
          "mark": {"type": "line", "strokeWidth": 2},
          "encoding": {
            "x": {"field": "x", "type": "quantitative", "scale": {"type": "log", "domain": [0.65, 7650]}, "axis": {"values": [10, 1000], "labels": false, "title": null}},
            "y": {"field": "y", "type": "quantitative", "scale": {"type": "log", "domain": [28650, 1175000]}, "axis": {"values": [30000,40000,50000,60000,70000,80000,90000,100000,200000,300000,400000,500000,600000,700000,800000,900000,1000000], "labels": false, "title": null, "tickSize": {"condition": {"test": "datum.value == 100000 || datum.value == 1000000", "value": 3.5}, "value": 2}, "gridOpacity": {"condition": {"test": "datum.value == 100000 || datum.value == 1000000", "value": 1}, "value": 0}}},
            "color": {"field": "k", "type": "ordinal", "scale": {"domain": [0,1,2,3,4,5,6,7], "range": ["#440154","#46327e","#365c8d","#277f8e","#25a584","#5ec962","#addc30","#fde725"]}, "legend": null},
            "strokeDash": {"field": "d", "type": "ordinal", "scale": {"domain": [0, 1], "range": [[1, 0], [7, 3]]}, "legend": null}
          }
        }
      ]
    },
    {
      "hconcat": [
        {
          "title": "8",
          "transform": [{"filter": "datum.p == 8"}],
          "mark": {"type": "line", "strokeWidth": 2},
          "encoding": {
            "x": {"field": "x", "type": "quantitative", "scale": {"type": "log", "domain": [0.65, 7650]}, "axis": {"values": [10, 1000], "labelExpr": "datum.value == 10 ? '10¹' : '10³'", "title": "Update Frequency"}},
            "y": {"field": "y", "type": "quantitative", "scale": {"type": "log", "domain": [28650, 1175000]}, "axis": {"values": [30000,40000,50000,60000,70000,80000,90000,100000,200000,300000,400000,500000,600000,700000,800000,900000,1000000], "labelExpr": "datum.value == 1000000 ? '10⁶' : datum.value == 100000 ? '10⁵' : ''", "title": "Log10(evaluations)", "tickSize": {"condition": {"test": "datum.value == 100000 || datum.value == 1000000", "value": 3.5}, "value": 2}, "gridOpacity": {"condition": {"test": "datum.value == 100000 || datum.value == 1000000", "value": 1}, "value": 0}}},
            "color": {"field": "k", "type": "ordinal", "scale": {"domain": [0,1,2,3,4,5,6,7], "range": ["#440154","#46327e","#365c8d","#277f8e","#25a584","#5ec962","#addc30","#fde725"]}, "legend": null},
            "strokeDash": {"field": "d", "type": "ordinal", "scale": {"domain": [0, 1], "range": [[1, 0], [7, 3]]}, "legend": null}
          }
        },
        {
          "title": "10",
          "transform": [{"filter": "datum.p == 10"}],
          "mark": {"type": "line", "strokeWidth": 2},
          "encoding": {
            "x": {"field": "x", "type": "quantitative", "scale": {"type": "log", "domain": [0.65, 7650]}, "axis": {"values": [10, 1000], "labelExpr": "datum.value == 10 ? '10¹' : '10³'", "title": "Update Frequency"}},
            "y": {"field": "y", "type": "quantitative", "scale": {"type": "log", "domain": [28650, 1175000]}, "axis": {"values": [30000,40000,50000,60000,70000,80000,90000,100000,200000,300000,400000,500000,600000,700000,800000,900000,1000000], "labels": false, "title": null, "tickSize": {"condition": {"test": "datum.value == 100000 || datum.value == 1000000", "value": 3.5}, "value": 2}, "gridOpacity": {"condition": {"test": "datum.value == 100000 || datum.value == 1000000", "value": 1}, "value": 0}}},
            "color": {"field": "k", "type": "ordinal", "scale": {"domain": [0,1,2,3,4,5,6,7], "range": ["#440154","#46327e","#365c8d","#277f8e","#25a584","#5ec962","#addc30","#fde725"]}, "legend": null},
            "strokeDash": {"field": "d", "type": "ordinal", "scale": {"domain": [0, 1], "range": [[1, 0], [7, 3]]}, "legend": null}
          }
        },
        {
          "title": "16",
          "transform": [{"filter": "datum.p == 16"}],
          "mark": {"type": "line", "strokeWidth": 2},
          "encoding": {
            "x": {"field": "x", "type": "quantitative", "scale": {"type": "log", "domain": [0.65, 7650]}, "axis": {"values": [10, 1000], "labelExpr": "datum.value == 10 ? '10¹' : '10³'", "title": "Update Frequency"}},
            "y": {"field": "y", "type": "quantitative", "scale": {"type": "log", "domain": [28650, 1175000]}, "axis": {"values": [30000,40000,50000,60000,70000,80000,90000,100000,200000,300000,400000,500000,600000,700000,800000,900000,1000000], "labels": false, "title": null, "tickSize": {"condition": {"test": "datum.value == 100000 || datum.value == 1000000", "value": 3.5}, "value": 2}, "gridOpacity": {"condition": {"test": "datum.value == 100000 || datum.value == 1000000", "value": 1}, "value": 0}}},
            "color": {"field": "k", "type": "ordinal", "scale": {"domain": [0,1,2,3,4,5,6,7], "range": ["#440154","#46327e","#365c8d","#277f8e","#25a584","#5ec962","#addc30","#fde725"]}, "legend": null},
            "strokeDash": {"field": "d", "type": "ordinal", "scale": {"domain": [0, 1], "range": [[1, 0], [7, 3]]}, "legend": null}
          }
        },
        {
          "title": "32",
          "transform": [{"filter": "datum.p == 32"}],
          "mark": {"type": "line", "strokeWidth": 2},
          "encoding": {
            "x": {"field": "x", "type": "quantitative", "scale": {"type": "log", "domain": [0.65, 7650]}, "axis": {"values": [10, 1000], "labelExpr": "datum.value == 10 ? '10¹' : '10³'", "title": "Update Frequency"}},
            "y": {"field": "y", "type": "quantitative", "scale": {"type": "log", "domain": [28650, 1175000]}, "axis": {"values": [30000,40000,50000,60000,70000,80000,90000,100000,200000,300000,400000,500000,600000,700000,800000,900000,1000000], "labels": false, "title": null, "tickSize": {"condition": {"test": "datum.value == 100000 || datum.value == 1000000", "value": 3.5}, "value": 2}, "gridOpacity": {"condition": {"test": "datum.value == 100000 || datum.value == 1000000", "value": 1}, "value": 0}}},
            "color": {"field": "k", "type": "ordinal", "scale": {"domain": [0,1,2,3,4,5,6,7], "range": ["#440154","#46327e","#365c8d","#277f8e","#25a584","#5ec962","#addc30","#fde725"]}, "legend": null},
            "strokeDash": {"field": "d", "type": "ordinal", "scale": {"domain": [0, 1], "range": [[1, 0], [7, 3]]}, "legend": null}
          }
        }
      ]
    }
  ],
  "spacing": 13,
  "config": {
    "font": "DejaVu Sans",
    "view": {"continuousWidth": 170, "continuousHeight": 165, "stroke": "#333333", "strokeWidth": 1},
    "axis": {"domainColor": "#333333", "tickColor": "#333333", "labelColor": "#000000", "labelFont": "DejaVu Sans", "labelFontSize": 16, "labelPadding": 3, "titleFont": "DejaVu Sans", "titleFontSize": 8, "titleFontWeight": "normal", "titleColor": "#222222", "titlePadding": 4, "gridColor": "#c8c8c8", "labelOverlap": false, "labelFlush": false, "tickSize": 3.5},
    "title": {"font": "DejaVu Sans", "fontSize": 19, "fontWeight": "normal", "anchor": "middle", "offset": 2, "baseline": "alphabetic", "color": "#000000"},
    "concat": {"spacing": 19}
  }
}
